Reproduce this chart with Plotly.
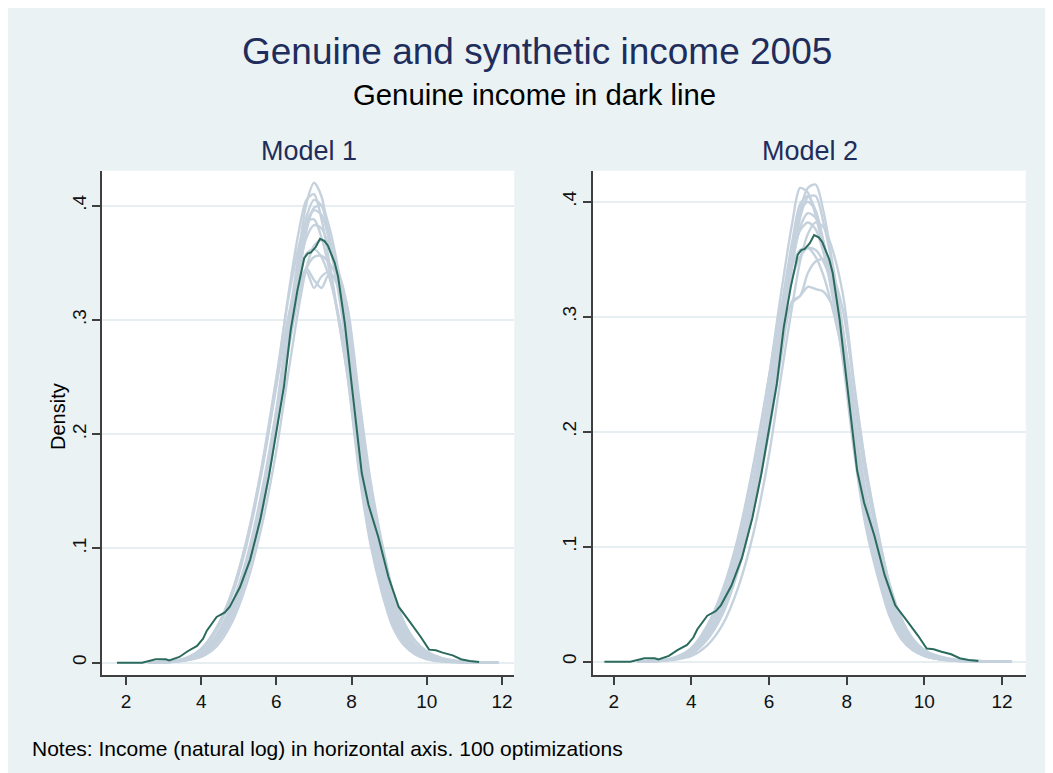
import plotly.graph_objects as go

# ---------------- data ----------------
# genuine income density (same in both panels)
genuine_x = [1.76, 2.43, 2.79, 3.06, 3.15, 3.42, 3.64, 3.89, 4.05, 4.15, 4.41, 4.63, 4.76, 5.03,
             5.30, 5.57, 5.80, 6.00, 6.20, 6.38, 6.56, 6.74, 6.83, 6.92, 7.05, 7.16, 7.28, 7.37,
             7.55, 7.64, 7.82, 8.00, 8.13, 8.27, 8.45, 8.71, 8.98, 9.25, 9.52, 9.84, 10.06, 10.24,
             10.42, 10.69, 10.91, 11.14, 11.39]
genuine_y = [0, 0, 0.003, 0.003, 0.002, 0.005, 0.010, 0.0146, 0.021, 0.028, 0.040, 0.044, 0.049, 0.066,
             0.090, 0.125, 0.163, 0.201, 0.2415, 0.291, 0.326, 0.354, 0.358, 0.359, 0.364, 0.371, 0.369, 0.365,
             0.350, 0.338, 0.297, 0.244, 0.205, 0.166, 0.138, 0.110, 0.075, 0.049, 0.037, 0.0225, 0.0114, 0.0108,
             0.0088, 0.0064, 0.003, 0.0015, 0.0006]

# synthetic densities, model 1 (a sample of the 100 optimizations)
m1_x = [2.6, 3.2, 3.6, 4.0, 4.4, 4.8, 5.2, 5.6, 6.0, 6.3, 6.6, 6.8, 7.0, 7.2, 7.4, 7.6, 7.9, 8.2,
        8.5, 8.8, 9.1, 9.4, 9.7, 10.0, 10.4, 10.8, 11.3, 11.9]
m1_01 = [0, .001, .004, .012, .030, .060, .106, .170, .250, .315, .365, .386, .388, .372, .345, .310, .250, .170, .108, .066, .034, .017, .008, .004, .0015, .0005, .0001, 0]
m1_02 = [0, .001, .004, .011, .028, .057, .102, .165, .245, .318, .378, .405, .410, .388, .352, .312, .248, .166, .104, .062, .031, .015, .007, .003, .001, .0004, .0001, 0]
m1_03 = [0, .0008, .003, .008, .021, .045, .085, .142, .220, .292, .360, .402, .420, .408, .372, .334, .268, .182, .116, .072, .037, .018, .009, .004, .0015, .0005, .0001, 0]
m1_04 = [0, .0006, .002, .006, .017, .038, .075, .128, .204, .272, .338, .378, .398, .400, .382, .352, .292, .204, .136, .088, .048, .025, .012, .006, .002, .0008, .0002, 0]
m1_05 = [0, .0005, .002, .005, .014, .034, .068, .118, .186, .250, .312, .346, .365, .370, .364, .348, .310, .232, .160, .106, .062, .034, .018, .009, .004, .0015, .0004, 0]
m1_06 = [0, .001, .003, .009, .024, .050, .090, .148, .222, .290, .332, .342, .328, .338, .342, .332, .290, .208, .140, .092, .052, .028, .014, .007, .003, .001, .0003, 0]
m1_07 = [0, .001, .003, .008, .022, .046, .086, .140, .214, .284, .344, .372, .383, .380, .364, .338, .282, .198, .130, .084, .045, .024, .012, .006, .0025, .001, .0003, 0]
m1_08 = [0, .0008, .0025, .007, .019, .042, .080, .134, .210, .283, .348, .385, .396, .392, .370, .340, .280, .194, .126, .080, .042, .022, .011, .005, .002, .0007, .0002, 0]
m1_09 = [0, .0008, .0025, .008, .022, .046, .086, .140, .208, .270, .322, .345, .355, .356, .350, .338, .302, .226, .156, .104, .062, .035, .019, .010, .004, .0016, .0005, 0]
m1_10 = [0, .0012, .004, .012, .030, .060, .106, .168, .242, .300, .342, .358, .362, .355, .338, .312, .262, .186, .122, .078, .042, .022, .011, .005, .002, .0008, .0002, 0]
m1_11 = [0, .0008, .003, .008, .020, .043, .082, .138, .214, .286, .352, .390, .405, .400, .374, .342, .276, .188, .120, .076, .040, .020, .010, .005, .002, .0007, .0002, 0]
m1_12 = [0, .001, .003, .009, .023, .048, .088, .144, .218, .286, .330, .345, .335, .328, .340, .336, .296, .214, .146, .096, .055, .030, .015, .008, .003, .0012, .0003, 0]

# synthetic densities, model 2
m2_x = [2.6, 3.2, 3.6, 4.0, 4.4, 4.8, 5.2, 5.6, 6.0, 6.3, 6.6, 6.8, 7.0, 7.2, 7.4, 7.6, 7.9, 8.2,
        8.5, 8.8, 9.1, 9.4, 9.7, 10.0, 10.4, 10.8, 11.5, 12.25]
m2_01 = [0, .001, .004, .011, .029, .058, .104, .168, .248, .318, .382, .412, .408, .388, .358, .324, .266, .186, .124, .080, .044, .023, .011, .005, .002, .0008, .0002, 0]
m2_02 = [0, .0008, .003, .008, .022, .047, .086, .140, .214, .284, .350, .392, .412, .415, .392, .354, .290, .206, .140, .092, .052, .027, .013, .006, .0025, .001, .0002, 0]
m2_03 = [0, .001, .003, .009, .024, .050, .090, .146, .218, .282, .312, .318, .326, .324, .322, .312, .284, .224, .158, .106, .064, .036, .019, .010, .004, .0015, .0004, 0]
m2_04 = [0, .0008, .0025, .007, .020, .043, .082, .136, .210, .282, .345, .378, .390, .386, .365, .336, .282, .204, .140, .094, .054, .029, .015, .007, .003, .0012, .0003, 0]
m2_05 = [0, .001, .003, .009, .024, .050, .092, .150, .226, .296, .360, .392, .400, .392, .366, .332, .270, .188, .124, .080, .043, .022, .011, .005, .002, .0008, .0002, 0]
m2_06 = [0, .0005, .0018, .005, .014, .032, .064, .112, .180, .246, .310, .348, .372, .382, .378, .362, .320, .240, .168, .114, .068, .038, .020, .010, .004, .0016, .0004, 0]
m2_07 = [0, .001, .003, .008, .022, .047, .087, .142, .216, .288, .350, .375, .382, .376, .356, .328, .276, .198, .135, .090, .052, .028, .014, .007, .003, .0012, .0003, 0]
m2_08 = [0, .0008, .0025, .007, .019, .041, .079, .132, .206, .278, .346, .386, .404, .405, .382, .350, .288, .202, .136, .090, .050, .026, .013, .006, .0025, .001, .0002, 0]
m2_09 = [0, .0012, .004, .012, .031, .062, .108, .172, .248, .306, .345, .358, .360, .352, .336, .312, .266, .192, .128, .082, .045, .024, .012, .006, .0025, .001, .0002, 0]
m2_10 = [0, .0008, .0025, .007, .019, .042, .080, .132, .200, .262, .314, .318, .338, .348, .350, .340, .306, .236, .166, .112, .068, .038, .020, .010, .0045, .0018, .0005, 0]
m2_11 = [0, .001, .0035, .010, .026, .054, .098, .158, .236, .304, .366, .398, .405, .392, .362, .326, .262, .180, .116, .074, .040, .020, .010, .005, .002, .0007, .0002, 0]
m2_12 = [0, .0008, .0025, .007, .020, .044, .084, .138, .212, .280, .334, .352, .360, .358, .348, .330, .288, .212, .146, .098, .058, .032, .017, .009, .004, .0016, .0005, 0]

model1_synthetic = [m1_01, m1_02, m1_03, m1_04, m1_05, m1_06, m1_07, m1_08, m1_09, m1_10, m1_11, m1_12]
model2_synthetic = [m2_01, m2_02, m2_03, m2_04, m2_05, m2_06, m2_07, m2_08, m2_09, m2_10, m2_11, m2_12]

x_tick_vals = [2, 4, 6, 8, 10, 12]
x_tick_text = ["2", "4", "6", "8", "10", "12"]
y_tick_vals = [0, 0.1, 0.2, 0.3, 0.4]
y_tick_text = ["0", ".1", ".2", ".3", ".4"]

title = "Genuine and synthetic income 2005"
subtitle = "Genuine income in dark line"
panel_titles = ["Model 1", "Model 2"]
note = "Notes: Income (natural log) in horizontal axis. 100 optimizations"
y_title = "Density"

# ---------------- styling ----------------
OFF = 8            # page body margin in the browser
W, H = 1045, 765
BG = "#EAF2F3"
SYN = "#C5D2DE"
GEN = "#2B6B5D"
NAVY = "#1F2D5C"
AX = "#3f3f3f"
GRID = "#E6EEF2"
FONT = "Liberation Sans, Arial, Helvetica, sans-serif"

def px_x(p):
    return (p - OFF) / W

def px_y(p):
    return 1 - (p - OFF) / H

fig = go.Figure()

for ys in model1_synthetic:
    fig.add_trace(go.Scatter(x=m1_x, y=ys, mode="lines",
                             line=dict(color=SYN, width=2.4, shape="spline", smoothing=0.8),
                             xaxis="x", yaxis="y", hoverinfo="skip"))
fig.add_trace(go.Scatter(x=genuine_x, y=genuine_y, mode="lines", line=dict(color=GEN, width=2),
                         xaxis="x", yaxis="y"))

for ys in model2_synthetic:
    fig.add_trace(go.Scatter(x=m2_x, y=ys, mode="lines",
                             line=dict(color=SYN, width=2.4, shape="spline", smoothing=0.8),
                             xaxis="x2", yaxis="y2", hoverinfo="skip"))
fig.add_trace(go.Scatter(x=genuine_x, y=genuine_y, mode="lines", line=dict(color=GEN, width=2),
                         xaxis="x2", yaxis="y2"))

common_x = dict(tickvals=x_tick_vals, ticktext=x_tick_text, ticks="outside", ticklen=8, tickwidth=1.5,
                tickcolor=AX, showline=True, linecolor=AX, linewidth=1.5, showgrid=False, zeroline=False,
                tickfont=dict(family=FONT, size=19, color="#111"))
common_y = dict(tickvals=y_tick_vals, ticktext=y_tick_text, ticks="outside", ticklen=8, tickwidth=1.5,
                tickcolor=AX, showline=True, linecolor=AX, linewidth=1.5, showgrid=True, gridcolor=GRID,
                gridwidth=1.5, zeroline=False, tickangle=-90, ticklabelstandoff=-1,
                tickfont=dict(family=FONT, size=19, color="#111"))

y_dom = [px_y(675), px_y(170.7)]

fig.update_layout(
    width=W, height=H, autosize=False,
    margin=dict(l=0, r=0, t=0, b=0),
    paper_bgcolor=BG, plot_bgcolor="white",
    showlegend=False,
    xaxis=dict(domain=[px_x(102), px_x(514.3)], range=[1.362, 12.327], anchor="y", **common_x),
    yaxis=dict(domain=y_dom, range=[-0.0108, 0.4306], anchor="x", **common_y),
    xaxis2=dict(domain=[px_x(592.7), px_x(1025.7)], range=[1.459, 12.61], anchor="y2", **common_x),
    yaxis2=dict(domain=y_dom, range=[-0.0116, 0.427], anchor="x2", **common_y),
    annotations=[
        dict(text=title, x=px_x(537), y=px_y(51), xref="paper", yref="paper", showarrow=False,
             xanchor="center", yanchor="middle", font=dict(family=FONT, size=37, color=NAVY)),
        dict(text=subtitle, x=px_x(534), y=px_y(94), xref="paper", yref="paper", showarrow=False,
             xanchor="center", yanchor="middle", font=dict(family=FONT, size=29.3, color="#000")),
        dict(text=panel_titles[0], x=px_x(308.5), y=px_y(151), xref="paper", yref="paper", showarrow=False,
             xanchor="center", yanchor="middle", font=dict(family=FONT, size=27, color=NAVY)),
        dict(text=panel_titles[1], x=px_x(810), y=px_y(151), xref="paper", yref="paper", showarrow=False,
             xanchor="center", yanchor="middle", font=dict(family=FONT, size=27, color=NAVY)),
        dict(text=y_title, x=px_x(58), y=px_y(417), xref="paper", yref="paper", showarrow=False,
             textangle=-90, xanchor="center", yanchor="middle", font=dict(family=FONT, size=20, color="#000")),
        dict(text=note, x=px_x(29.7), y=px_y(748), xref="paper", yref="paper", showarrow=False,
             xanchor="left", yanchor="middle", font=dict(family=FONT, size=21, color="#000")),
    ],
)

fig.write_html("out.html")
